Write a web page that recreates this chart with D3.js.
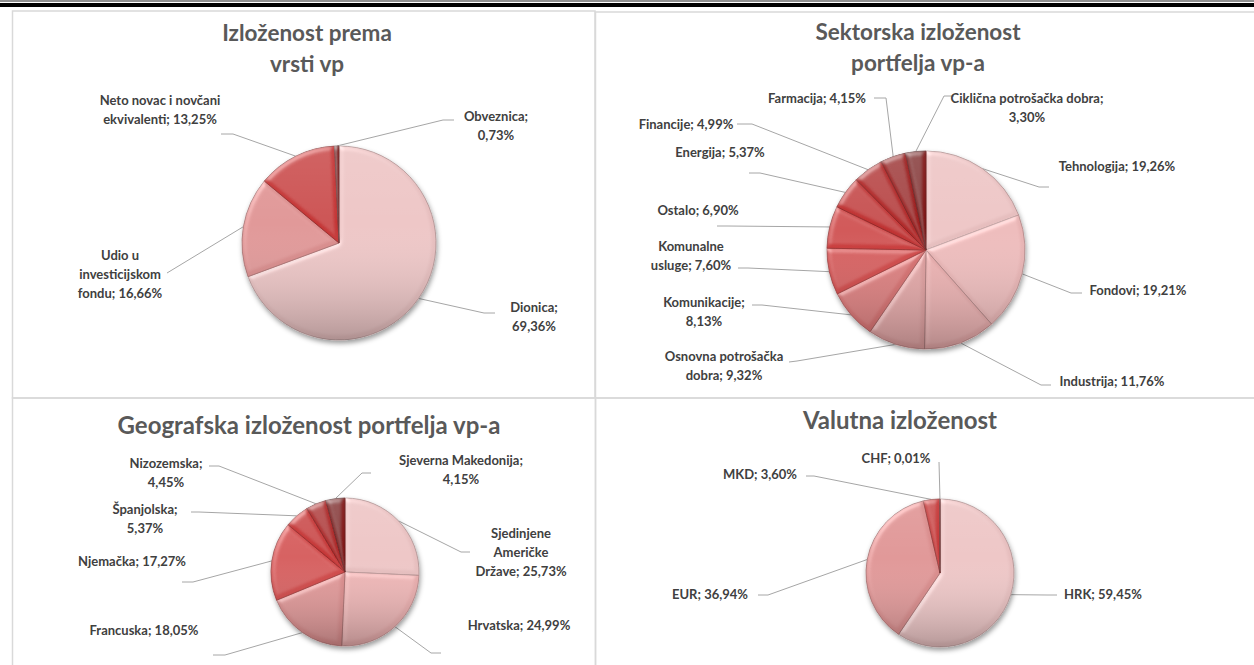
<!DOCTYPE html>
<html>
<head>
<meta charset="utf-8">
<script src="https://cdn.jsdelivr.net/npm/d3@7"></script>
<style>
  body { margin: 0; background: #fff; }
  svg text { font-family: Lato, "Open Sans", sans-serif; font-weight: bold; }
</style>
</head>
<body>
<svg id="chart" width="1254" height="665"></svg>
<script>
// --- data ---
const vrstaTitle = ["Izloženost prema", "vrsti vp"];
const vrstaCats = ["Dionica", "Udio u investicijskom fondu", "Neto novac i novčani ekvivalenti", "Obveznica"];
const vrstaVals = [69.36, 16.66, 13.25, 0.73];

const sektorTitle = ["Sektorska izloženost", "portfelja vp-a"];
const sektorCats = ["Tehnologija", "Fondovi", "Industrija", "Osnovna potrošačka dobra", "Komunikacije",
  "Komunalne usluge", "Ostalo", "Energija", "Financije", "Farmacija", "Ciklična potrošačka dobra"];
const sektorVals = [19.26, 19.21, 11.76, 9.32, 8.13, 7.60, 6.90, 5.37, 4.99, 4.15, 3.30];

const geoTitle = ["Geografska izloženost portfelja vp-a"];
const geoCats = ["Sjedinjene Američke Države", "Hrvatska", "Francuska", "Njemačka", "Španjolska", "Nizozemska", "Sjeverna Makedonija"];
const geoVals = [25.73, 24.99, 18.05, 17.27, 5.37, 4.45, 4.15];

const valutaTitle = ["Valutna izloženost"];
const valutaCats = ["HRK", "EUR", "MKD", "CHF"];
const valutaVals = [59.45, 36.94, 3.60, 0.01];

// --- layout (label centre x, first line y, line breaks, leader end + elbow) ---
const vrstaLayout = {
  cx: 339, cy: 243, r: 97, titleX: 307, titleY: 33, titleSize: 22.5,
  labels: [
    {x: 534, y: 307, br: [1], a: [495, 313], e: [484, 313]},
    {x: 120, y: 255, br: [2, 3], a: [167, 273], e: [167, 273]},
    {x: 160, y: 100, br: [4], a: [221, 134], e: [233, 134]},
    {x: 496, y: 116, br: [1], a: [454, 120], e: [443, 120]}
  ]
};
const sektorLayout = {
  cx: 926, cy: 250, r: 99, titleX: 918, titleY: 32, titleSize: 22.5,
  labels: [
    {x: 1117, y: 166, br: [], a: [1049, 187], e: [1039, 187]},
    {x: 1138, y: 290, br: [], a: [1082, 293], e: [1071, 293]},
    {x: 1112, y: 381, br: [], a: [1051, 385], e: [1041, 385]},
    {x: 724, y: 356, br: [2], a: [789, 362], e: [797, 361]},
    {x: 704, y: 302, br: [1], a: [752, 305], e: [762, 305]},
    {x: 691, y: 246, br: [1], a: [738, 268], e: [748, 268]},
    {x: 698, y: 210, br: [], a: [717, 226], e: [727, 226]},
    {x: 720, y: 152, br: [], a: [749, 173], e: [760, 173]},
    {x: 686, y: 124, br: [], a: [737, 124], e: [752, 124]},
    {x: 817, y: 98, br: [], a: [874, 98], e: [886, 98]},
    {x: 1027, y: 98, br: [3], a: [954, 96], e: [944, 96]}
  ]
};
const geoLayout = {
  cx: 345, cy: 572, r: 74, titleX: 309, titleY: 426, titleSize: 24,
  labels: [
    {x: 521, y: 533, br: [1, 2], a: [470, 552], e: [461, 552]},
    {x: 519, y: 625, br: [], a: [441, 653], e: [431, 653]},
    {x: 144, y: 630, br: [], a: [213, 655], e: [225, 655]},
    {x: 132, y: 561, br: [], a: [182, 582], e: [193, 582]},
    {x: 145, y: 509, br: [1], a: [191, 512], e: [199, 512]},
    {x: 166, y: 463, br: [1], a: [209, 466], e: [219, 466]},
    {x: 461, y: 460, br: [2], a: [371, 473], e: [362, 473]}
  ]
};
const valutaLayout = {
  cx: 940, cy: 573, r: 74, titleX: 900, titleY: 421, titleSize: 24,
  labels: [
    {x: 1103, y: 594, br: [], a: [1057, 595], e: [1047, 595]},
    {x: 710, y: 594, br: [], a: [758, 595], e: [768, 595]},
    {x: 760, y: 474, br: [], a: [806, 476], e: [814, 476]},
    {x: 896, y: 458, br: [], a: [939, 462], e: [939, 462]}
  ]
};

const svg = d3.select("#chart");
const defs = svg.append("defs");

// drop shadow under each pie
const sh = defs.append("filter").attr("id", "shadow")
  .attr("x", "-30%").attr("y", "-30%").attr("width", "160%").attr("height", "170%");
sh.append("feDropShadow").attr("dx", 1).attr("dy", 3).attr("stdDeviation", 2.5)
  .attr("flood-color", "#000").attr("flood-opacity", 0.4);

// soft bevel on each slice
const bv = defs.append("filter").attr("id", "bevel")
  .attr("x", "-10%").attr("y", "-10%").attr("width", "120%").attr("height", "120%");
bv.append("feGaussianBlur").attr("in", "SourceAlpha").attr("stdDeviation", 2.5).attr("result", "blur");
const spec = bv.append("feSpecularLighting").attr("in", "blur").attr("surfaceScale", 2)
  .attr("specularConstant", 0.3).attr("specularExponent", 18).attr("lighting-color", "#fff").attr("result", "spec");
spec.append("feDistantLight").attr("azimuth", 235).attr("elevation", 42);
bv.append("feComposite").attr("in", "spec").attr("in2", "SourceAlpha").attr("operator", "in").attr("result", "specOut");
bv.append("feComposite").attr("in", "SourceGraphic").attr("in2", "specOut")
  .attr("operator", "arithmetic").attr("k1", 0).attr("k2", 1).attr("k3", 1).attr("k4", 0);

// vertical shading over the whole pie
const shade = defs.append("linearGradient").attr("id", "shade")
  .attr("x1", 0).attr("y1", 0).attr("x2", 0).attr("y2", 1);
shade.append("stop").attr("offset", "0%").attr("stop-color", "#fff").attr("stop-opacity", 0.08);
shade.append("stop").attr("offset", "40%").attr("stop-color", "#fff").attr("stop-opacity", 0);
shade.append("stop").attr("offset", "100%").attr("stop-color", "#000").attr("stop-opacity", 0.24);

const palette = d3.scaleLinear()
  .domain([0, 0.15, 0.3, 0.35, 0.5, 0.67, 0.85, 1])
  .range(["#e6bebe", "#e8adad", "#dc9c9c", "#d88282", "#cf4646", "#c43434", "#a82424", "#801414"])
  .interpolate(d3.interpolateRgb);
const fmt = v => d3.format(".2f")(v).replace(".", ",") + "%";

// page rules and panel frames
svg.append("rect").attr("x", 0).attr("y", 0.5).attr("width", 1254).attr("height", 1).attr("fill", "#222");
svg.append("rect").attr("x", 0).attr("y", 3).attr("width", 1254).attr("height", 4).attr("fill", "#000");
const frames = [[12.5, 11, 582.5, 387], [595.5, 12, 680, 386], [12.5, 398, 583, 300], [595.5, 398, 680, 300]];
svg.selectAll("rect.frame").data(frames).join("rect").attr("class", "frame")
  .attr("x", d => d[0]).attr("y", d => d[1]).attr("width", d => d[2]).attr("height", d => d[3])
  .attr("fill", "none").attr("stroke", "#d9d9d9").attr("stroke-width", 1.5);

function drawPie(title, cats, vals, lay) {
  const root = svg.append("g");

  root.append("text")
    .attr("text-anchor", "middle").attr("font-size", lay.titleSize).attr("fill", "#595959")
    .selectAll("tspan").data(title).join("tspan")
    .attr("x", lay.titleX).attr("y", (d, i) => lay.titleY + 8 + i * 31)
    .text(d => d);

  const arcs = d3.pie().sort(null).value(d => d)(vals);
  const arc = d3.arc().innerRadius(0).outerRadius(lay.r);
  const edge = d3.arc().innerRadius(lay.r).outerRadius(lay.r);
  const color = i => palette(vals.length > 1 ? i / (vals.length - 1) : 0);

  // leader lines
  root.selectAll("path.leader").data(arcs).join("path").attr("class", "leader")
    .attr("d", (d, i) => {
      const p = edge.centroid(d), l = lay.labels[i];
      return d3.line()([[lay.cx + p[0], lay.cy + p[1]], l.e, l.a]);
    })
    .attr("fill", "none").attr("stroke", "#a6a6a6").attr("stroke-width", 1);

  const pg = root.append("g").attr("transform", `translate(${lay.cx},${lay.cy})`);
  const body = pg.append("g").attr("filter", "url(#shadow)");
  body.selectAll("path").data(arcs).join("path")
    .attr("d", arc)
    .attr("fill", (d, i) => color(i))
    .attr("stroke", (d, i) => d3.color(color(i)).darker(0.8))
    .attr("stroke-width", 0.8)
    .attr("filter", "url(#bevel)");
  pg.append("circle").attr("r", lay.r).attr("fill", "url(#shade)");

  // data labels
  arcs.forEach((d, i) => {
    const l = lay.labels[i];
    const words = (cats[i] + "; " + fmt(vals[i])).split(" ");
    const cuts = [0, ...l.br, words.length];
    const lines = d3.range(cuts.length - 1).map(k => words.slice(cuts[k], cuts[k + 1]).join(" "));
    root.append("text")
      .attr("text-anchor", "middle").attr("font-size", 13).attr("fill", "#404040")
      .selectAll("tspan").data(lines).join("tspan")
      .attr("x", l.x).attr("y", (s, k) => l.y + 4.6 + k * 19)
      .text(s => s);
  });
}

drawPie(vrstaTitle, vrstaCats, vrstaVals, vrstaLayout);
drawPie(sektorTitle, sektorCats, sektorVals, sektorLayout);
drawPie(geoTitle, geoCats, geoVals, geoLayout);
drawPie(valutaTitle, valutaCats, valutaVals, valutaLayout);
</script>
</body>
</html>
